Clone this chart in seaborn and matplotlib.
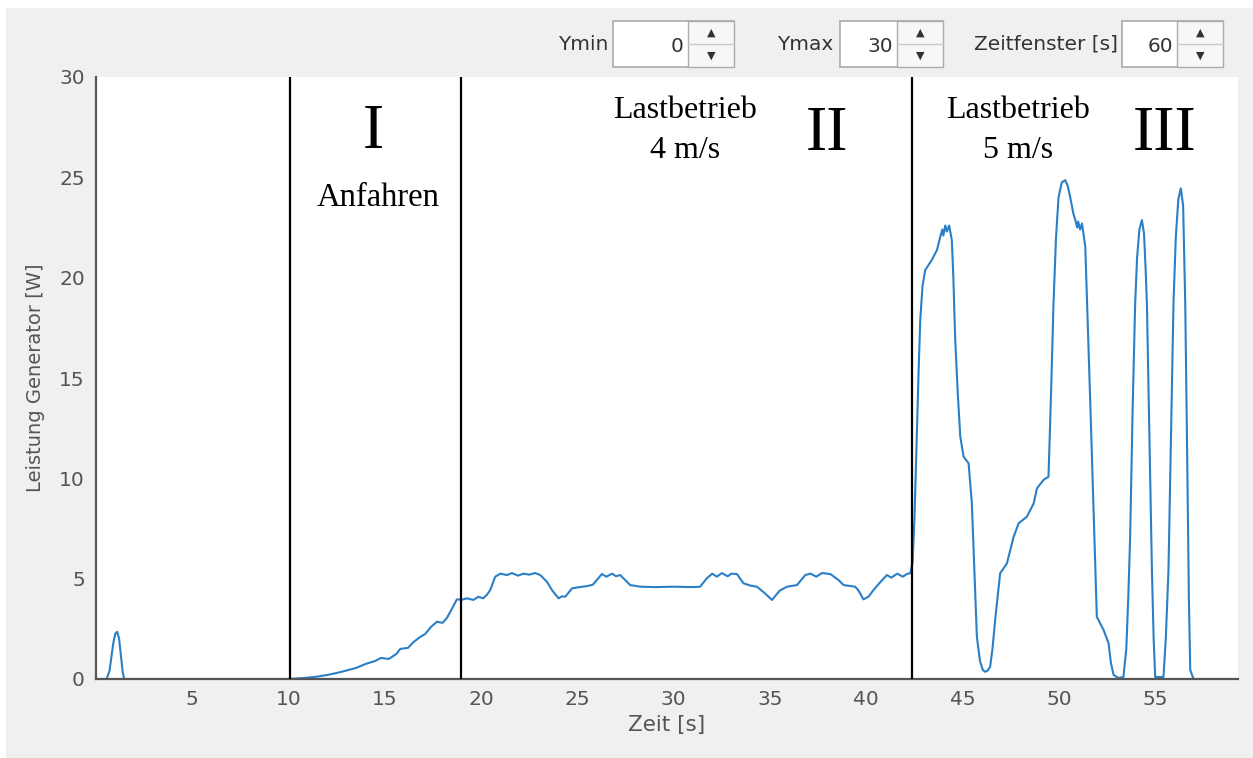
import matplotlib
matplotlib.use("Agg")
import matplotlib.pyplot as plt
import seaborn as sns
import pandas as pd
from matplotlib.patches import Rectangle

# ---------------- data ----------------
zeit = [
    0, 0.55, 0.7, 0.8, 0.9, 1.0, 1.1, 1.2, 1.3, 1.38, 1.45, 1.5,
    10.0, 10.8, 11.5, 12.0, 12.5, 13.0, 13.5, 14.0, 14.5, 14.8, 15.2, 15.6, 15.8, 16.2, 16.5,
    16.84, 17.1, 17.4, 17.7, 18.0, 18.22, 18.4, 18.74,
    19.0, 19.26, 19.6, 19.85, 20.1, 20.3, 20.47, 20.73, 21.0, 21.34, 21.6, 21.9, 22.2, 22.5,
    22.8, 23.07, 23.41, 23.7, 24.02, 24.2, 24.37, 24.72, 25.1, 25.5, 25.8, 26.0, 26.27, 26.5,
    26.8, 27.0, 27.22, 27.74, 28.26, 29.0, 30.0, 31.0, 31.37, 31.72, 32.0, 32.24, 32.5, 32.8,
    33.0, 33.28, 33.62, 34.0, 34.32, 34.7, 35.1, 35.5, 35.88, 36.4, 36.83, 37.1, 37.4, 37.7,
    38.13, 38.56, 38.82, 39.42, 39.6, 39.85, 40.11, 40.37, 40.7, 41.07, 41.3, 41.6, 41.9, 42.1,
    42.28,
    42.4, 42.5, 42.62, 42.72, 42.8, 42.92, 43.06, 43.4, 43.67, 43.84, 43.95, 44.0, 44.1, 44.18,
    44.3, 44.44, 44.52, 44.61, 44.75, 44.88, 45.05,
    45.31, 45.48, 45.74, 45.9, 46.05, 46.17, 46.3, 46.43, 46.55, 46.69, 46.95, 47.3, 47.65,
    47.91, 48.34, 48.69, 48.86, 49.2, 49.46, 49.6, 49.72, 49.85, 49.98, 50.15, 50.33, 50.45,
    50.59, 50.75, 50.85, 50.95, 51.0, 51.1, 51.2, 51.37, 51.63,
    51.97, 52.32, 52.58, 52.7, 52.84, 53.1, 53.35, 53.5, 53.6, 53.7, 53.83, 53.96, 54.06,
    54.18, 54.31, 54.42, 54.5, 54.57, 54.7, 54.83, 54.92,
    55.0, 55.43, 55.55, 55.69, 55.82, 55.95, 56.07, 56.2, 56.33, 56.45, 56.56, 56.65, 56.75,
    56.82, 56.99, 59.3,
]
leistung = [
    0, 0, 0.4, 1.1, 1.8, 2.25, 2.35, 2.0, 1.1, 0.4, 0.05, 0,
    0, 0.05, 0.12, 0.2, 0.3, 0.42, 0.55, 0.75, 0.9, 1.05, 1.0, 1.25, 1.5, 1.55, 1.85,
    2.1, 2.25, 2.6, 2.85, 2.8, 3.04, 3.35, 3.97,
    3.95, 4.02, 3.94, 4.1, 4.02, 4.2, 4.43, 5.1, 5.25, 5.18, 5.28, 5.15, 5.25, 5.2,
    5.28, 5.18, 4.85, 4.4, 4.02, 4.12, 4.1, 4.52, 4.58, 4.63, 4.7, 4.93, 5.23, 5.1,
    5.25, 5.12, 5.18, 4.68, 4.6, 4.58, 4.6, 4.58, 4.6, 5.02, 5.25, 5.1, 5.28, 5.12,
    5.25, 5.23, 4.77, 4.65, 4.6, 4.3, 3.94, 4.4, 4.6, 4.68, 5.18, 5.25, 5.1, 5.28,
    5.23, 4.93, 4.68, 4.6, 4.4, 3.97, 4.1, 4.43, 4.8, 5.18, 5.05, 5.25, 5.1, 5.23,
    5.27,
    5.8, 8.0, 12.07, 15.5, 17.89, 19.6, 20.38, 20.88, 21.38, 22.04, 22.4, 22.1, 22.6, 22.3,
    22.6, 21.87, 20.0, 17.06, 14.2, 12.07, 11.08,
    10.75, 8.75, 2.11, 0.9, 0.45, 0.36, 0.42, 0.61, 1.5, 2.94, 5.27, 5.76, 7.09,
    7.76, 8.09, 8.75, 9.5, 9.92, 10.08, 14.5, 18.72, 22.0, 24.0, 24.75, 24.86, 24.6,
    24.0, 23.2, 22.87, 22.5, 22.8, 22.4, 22.7, 21.54, 13.74,
    3.10, 2.44, 1.78, 0.8, 0.2, 0.05, 0.1, 1.5, 4.0, 7.09, 13.5, 18.72, 21.0,
    22.4, 22.87, 22.2, 20.5, 18.72, 12.0, 5.43, 2.0,
    0.1, 0.1, 2.0, 5.43, 12.0, 18.72, 22.0, 23.9, 24.45, 23.6, 18.72, 12.0, 4.0,
    0.45, 0, 0,
]
phasen_grenzen = [10.08, 18.96, 42.38]
x_ticks = [5, 10, 15, 20, 25, 30, 35, 40, 45, 50, 55]
y_ticks = [0, 5, 10, 15, 20, 25, 30]
spin_labels = ["Ymin", "Ymax", "Zeitfenster [s]"]
spin_values = ["0", "30", "60"]

df = pd.DataFrame({"Zeit": zeit, "Leistung": leistung})

# ---------------- style ----------------
sns.set_theme(style="white")
plt.rcParams["font.family"] = ["DejaVu Sans"]

W, H = 1253, 758
fig = plt.figure(figsize=(W / 100, H / 100), dpi=100)
fig.patch.set_facecolor("white")

def fx(px):
    return px / W

def fy(py):
    return 1 - py / H

# gray GUI background with white outer border
fig.add_artist(Rectangle((fx(6), 0), 1 - fx(6), fy(8), transform=fig.transFigure,
                         facecolor="#f0f0f0", edgecolor="none", zorder=0))

ax = fig.add_axes([fx(96), fy(679), fx(1238) - fx(96), fy(77) - fy(679)])
ax.set_facecolor("white")

sns.lineplot(data=df, x="Zeit", y="Leistung", ax=ax, color="#2a7fc6",
             linewidth=1.5, sort=False, estimator=None)

for xv in phasen_grenzen:
    ax.axvline(xv, color="black", linewidth=1.6, zorder=3)

ax.set_xlim(0, 59.3)
ax.set_ylim(0, 30)
ax.set_xticks(x_ticks)
ax.set_yticks(y_ticks)
for s in ["top", "right"]:
    ax.spines[s].set_visible(False)
for s in ["left", "bottom"]:
    ax.spines[s].set_color("#555555")
    ax.spines[s].set_linewidth(1.6)
ax.tick_params(direction="in", length=6, width=1.3, color="#555555",
               labelsize=14.5, labelcolor="#555555", pad=8)
ax.set_xlabel("Zeit [s]", fontsize=15.5, color="#555555", labelpad=4)
ax.set_ylabel("Leistung Generator [W]", fontsize=14, color="#555555", labelpad=10)

serif = ["Liberation Serif", "DejaVu Serif"]
ax.text(14.4, 27.2, "I", fontsize=46, family=serif, ha="center", va="center", color="black")
ax.text(14.66, 24.0, "Anfahren", fontsize=23.5, family=serif, ha="center", va="center", color="black")
ax.text(30.6, 27.35, "Lastbetrieb\n4 m/s", fontsize=23, family=serif, ha="center", va="center",
        color="black", linespacing=1.5)
ax.text(37.95, 27.1, "II", fontsize=46, family=serif, ha="center", va="center", color="black")
ax.text(47.88, 27.35, "Lastbetrieb\n5 m/s", fontsize=23, family=serif, ha="center", va="center",
        color="black", linespacing=1.5)
ax.text(55.5, 27.1, "III", fontsize=46, family=serif, ha="center", va="center", color="black")

# ---------------- spin boxes (GUI controls) ----------------
boxes = [
    (608, 613, 688, 734),
    (833, 840, 897, 943),
    (1118, 1122, 1177, 1223),
]
top, bot = 21, 67
for (lab, val, (lx, bl, dv, br)) in zip(spin_labels, spin_values, boxes):
    fig.text(fx(lx), fy(44), lab, ha="right", va="center", fontsize=14.5, color="#333333")
    fig.add_artist(Rectangle((fx(bl), fy(bot)), fx(br) - fx(bl), fy(top) - fy(bot),
                             transform=fig.transFigure, facecolor="white",
                             edgecolor="#ababab", linewidth=1.2, zorder=2))
    fig.add_artist(Rectangle((fx(dv), fy(bot)), fx(br) - fx(dv), fy(top) - fy(bot),
                             transform=fig.transFigure, facecolor="#f7f7f7",
                             edgecolor="#ababab", linewidth=1.0, zorder=3))
    fig.add_artist(plt.Line2D([fx(dv), fx(br)], [fy(44), fy(44)], transform=fig.transFigure,
                              color="#c8c8c8", linewidth=1.0, zorder=4))
    fig.text(fx(dv - 4), fy(46), val, ha="right", va="center", fontsize=14.5, color="#333333",
             zorder=5)
    cx = (dv + br) / 2
    fig.text(fx(cx), fy(33), "\u25b2", ha="center", va="center", fontsize=8, color="#333333",
             zorder=5)
    fig.text(fx(cx), fy(56), "\u25bc", ha="center", va="center", fontsize=8, color="#333333",
             zorder=5)

fig.savefig("out.png", dpi=100, facecolor=fig.get_facecolor())
